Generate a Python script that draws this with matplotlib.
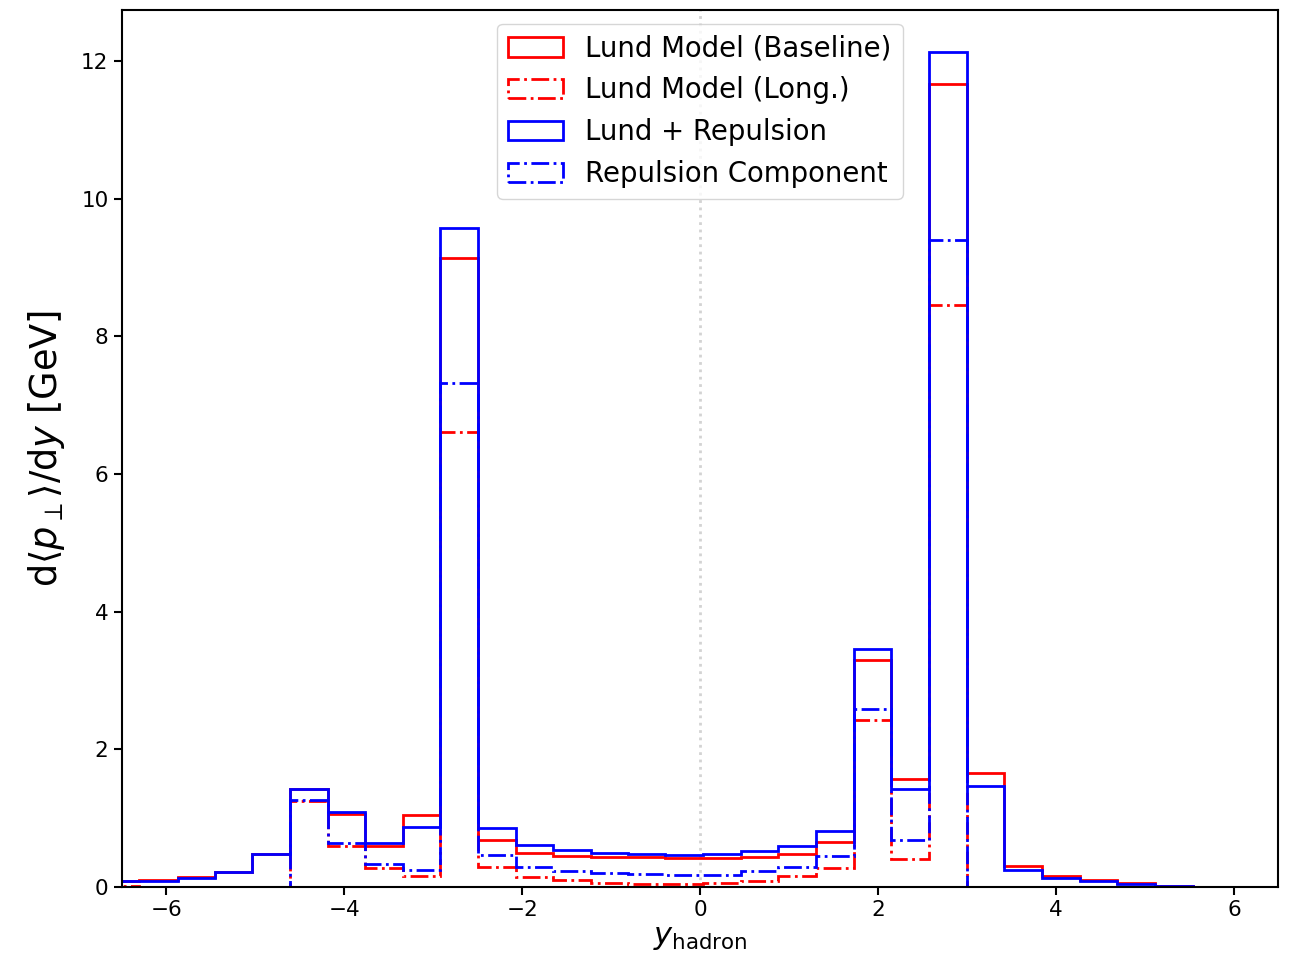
import numpy as np
import matplotlib
matplotlib.use("Agg")
import matplotlib.pyplot as plt

# Bin edges in rapidity
edges = [-6.72, -6.30, -5.87, -5.45, -5.03, -4.61, -4.18, -3.76, -3.34, -2.92,
         -2.50, -2.07, -1.65, -1.23, -0.81, -0.39, 0.03, 0.46, 0.88, 1.30,
         1.73, 2.15, 2.57, 3.00, 3.42, 3.84, 4.27, 4.69, 5.11, 5.54,
         5.96, 6.38, 6.80]

# d<pT>/dy per bin [GeV]
lund_baseline = [0.09, 0.10, 0.145, 0.22, 0.48, 1.43, 1.06, 0.60, 1.04, 9.13,
                 0.68, 0.50, 0.45, 0.43, 0.43, 0.42, 0.42, 0.44, 0.48, 0.65,
                 3.29, 1.57, 11.67, 1.66, 0.30, 0.155, 0.10, 0.063, 0.01, 0.006,
                 0.004, 0.003]
lund_long = [0.01, 0.0, 0.0, 0.0, 0.0, 1.25, 0.59, 0.28, 0.155, 6.61,
             0.29, 0.145, 0.097, 0.058, 0.05, 0.04, 0.058, 0.092, 0.155, 0.276,
             2.42, 0.40, 8.46, 0.005, 0.003, 0.002, 0.001, 0.001, 0.0, 0.0,
             0.0, 0.0]
lund_repulsion = [0.08, 0.08, 0.13, 0.22, 0.48, 1.43, 1.09, 0.64, 0.87, 9.58,
                  0.86, 0.605, 0.54, 0.50, 0.48, 0.47, 0.48, 0.52, 0.60, 0.82,
                  3.45, 1.43, 12.13, 1.46, 0.25, 0.13, 0.08, 0.05, 0.008, 0.005,
                  0.003, 0.002]
repulsion_comp = [0.0, 0.0, 0.0, 0.0, 0.0, 1.27, 0.64, 0.33, 0.24, 7.32,
                  0.46, 0.29, 0.23, 0.20, 0.19, 0.17, 0.18, 0.23, 0.29, 0.445,
                  2.59, 0.68, 9.40, 0.003, 0.002, 0.001, 0.0, 0.0, 0.0, 0.0,
                  0.0, 0.0]

edges = np.array(edges)
centers = 0.5 * (edges[:-1] + edges[1:])

fig = plt.figure(figsize=(12.94, 9.68), dpi=100)
ax = fig.add_axes([0.094, 0.0837, 0.894, 0.906])

ax.axvline(0, color='lightgray', linestyle=':', linewidth=2, zorder=0)

ax.hist(centers, bins=edges, weights=lund_baseline, histtype='step',
        color='red', linewidth=2, label='Lund Model (Baseline)')
ax.hist(centers, bins=edges, weights=lund_long, histtype='step',
        color='red', linewidth=2, linestyle='-.', label='Lund Model (Long.)')
ax.hist(centers, bins=edges, weights=lund_repulsion, histtype='step',
        color='blue', linewidth=2, label='Lund + Repulsion')
ax.hist(centers, bins=edges, weights=repulsion_comp, histtype='step',
        color='blue', linewidth=2, linestyle='-.', label='Repulsion Component')

ax.set_xlim(-6.5, 6.5)
ax.set_ylim(0, 12.74)
ax.set_xticks([-6, -4, -2, 0, 2, 4, 6])
ax.set_yticks([0, 2, 4, 6, 8, 10, 12])
ax.tick_params(labelsize=15.5, width=1.5, length=6)
for s in ax.spines.values():
    s.set_linewidth(1.5)

ax.set_xlabel(r'$y_{\rm hadron}$', fontsize=22, labelpad=2)
ax.set_ylabel(r'd$\langle p_\perp\rangle$/d$y$ [GeV]', fontsize=26.5, labelpad=10)

ax.legend(loc='upper center', fontsize=19.8)

fig.savefig('out.png', dpi=100)
